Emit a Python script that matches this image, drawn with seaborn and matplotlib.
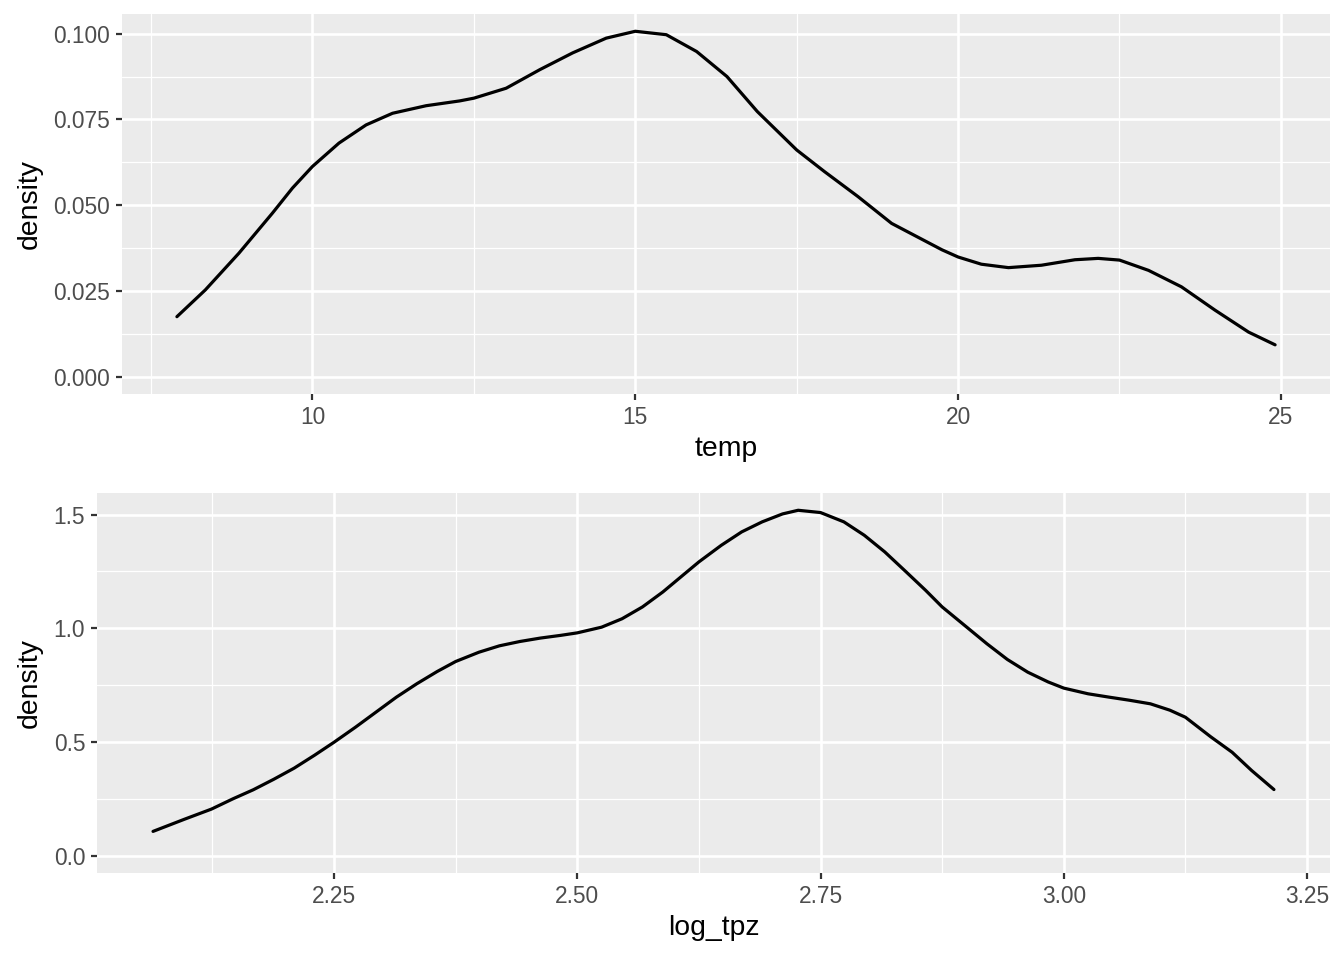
import matplotlib
matplotlib.use('Agg')
import matplotlib.pyplot as plt
from matplotlib.ticker import AutoMinorLocator, FixedLocator
import seaborn as sns
import pandas as pd

# density curves
temp = [7.90, 8.34, 8.86, 9.38, 9.69, 10.0, 10.41, 10.83, 11.24, 11.76, 12.28,
        12.50, 13.0, 13.52, 14.03, 14.55, 15.0, 15.48, 15.95, 16.42, 16.89, 17.5,
        17.93, 18.45, 18.97, 19.75, 20.0, 20.36, 20.78, 21.29, 21.81, 22.17, 22.5,
        22.95, 23.46, 23.98, 24.50, 24.91]
temp_density = [0.0175, 0.0253, 0.0360, 0.0477, 0.0550, 0.0613, 0.0681, 0.0734,
                0.0768, 0.0790, 0.0804, 0.0812, 0.0841, 0.0895, 0.0944, 0.0987,
                0.1007, 0.0997, 0.0948, 0.0875, 0.0773, 0.0661, 0.0598, 0.0525,
                0.0447, 0.0370, 0.0349, 0.0328, 0.0318, 0.0325, 0.0341, 0.0345,
                0.0340, 0.0310, 0.0262, 0.0194, 0.0130, 0.0093]

log_tpz = [2.064, 2.096, 2.124, 2.146, 2.167, 2.188, 2.209, 2.230, 2.25, 2.272,
           2.293, 2.314, 2.335, 2.356, 2.375, 2.399, 2.420, 2.441, 2.462, 2.483,
           2.50, 2.525, 2.546, 2.567, 2.588, 2.609, 2.625, 2.648, 2.669, 2.690,
           2.711, 2.727, 2.75, 2.774, 2.795, 2.816, 2.837, 2.858, 2.875, 2.900,
           2.921, 2.942, 2.963, 2.984, 3.00, 3.025, 3.047, 3.067, 3.089, 3.109,
           3.125, 3.151, 3.173, 3.193, 3.216]
log_tpz_density = [0.107, 0.160, 0.205, 0.250, 0.290, 0.336, 0.385, 0.442, 0.499,
                   0.565, 0.631, 0.697, 0.756, 0.810, 0.854, 0.895, 0.923, 0.942,
                   0.957, 0.969, 0.980, 1.005, 1.042, 1.094, 1.160, 1.235, 1.292,
                   1.365, 1.424, 1.468, 1.503, 1.519, 1.509, 1.468, 1.409, 1.336,
                   1.252, 1.167, 1.094, 1.006, 0.932, 0.863, 0.807, 0.764, 0.737,
                   0.712, 0.697, 0.684, 0.668, 0.640, 0.609, 0.523, 0.455, 0.375,
                   0.291]

temp_ticks = [10, 15, 20, 25]
temp_yticks = [0.000, 0.025, 0.050, 0.075, 0.100]
tpz_ticks = [2.25, 2.50, 2.75, 3.00, 3.25]
tpz_yticks = [0.0, 0.5, 1.0, 1.5]

sns.set_theme(style="darkgrid")
plt.rcParams['font.family'] = ['Liberation Sans', 'DejaVu Sans']

fig = plt.figure(figsize=(13.44, 9.6), dpi=100)
ax1 = fig.add_axes([122 / 1344, 1 - 394 / 960, 1208 / 1344, 380 / 960])
ax2 = fig.add_axes([97 / 1344, 1 - 873 / 960, 1233 / 1344, 380 / 960])


def style_axis(ax, x, y, xticks, yticks, xfmt, yfmt, xlabel, ylab_x):
    df = pd.DataFrame({'x': x, 'y': y})
    sns.lineplot(data=df, x='x', y='y', ax=ax, color='black', linewidth=2.3,
                 estimator=None, sort=False)
    xr = max(x) - min(x)
    ax.set_xlim(min(x) - 0.05 * xr, max(x) + 0.05 * xr)
    yr = max(y)
    ax.set_ylim(-0.05 * yr, yr * 1.05)
    ax.set_facecolor('#EBEBEB')
    for s in ax.spines.values():
        s.set_visible(False)
    ax.xaxis.set_major_locator(FixedLocator(xticks))
    ax.yaxis.set_major_locator(FixedLocator(yticks))
    ax.xaxis.set_minor_locator(AutoMinorLocator(2))
    ax.yaxis.set_minor_locator(AutoMinorLocator(2))
    ax.set_xticklabels([xfmt.format(v) for v in xticks])
    ax.set_yticklabels([yfmt.format(v) for v in yticks])
    ax.grid(which='major', color='white', linewidth=1.9)
    ax.grid(which='minor', color='white', linewidth=0.9)
    ax.set_axisbelow(True)
    ax.tick_params(which='major', length=4.5, width=1.6, color='#333333',
                   labelsize=16.4, labelcolor='#4D4D4D', pad=4,
                   bottom=True, left=True)
    ax.tick_params(which='minor', length=0)
    ax.set_xlabel(xlabel, fontsize=20.4, color='black', va='center')
    ax.set_ylabel('density', fontsize=20.4, color='black', va='center')
    ax.xaxis.set_label_coords(0.5, -0.146)
    ax.yaxis.set_label_coords(ylab_x, 0.5)


style_axis(ax1, temp, temp_density, temp_ticks, temp_yticks, '{:g}', '{:.3f}',
           'temp', (30 - 122) / 1208)
style_axis(ax2, log_tpz, log_tpz_density, tpz_ticks, tpz_yticks, '{:.2f}', '{:.1f}',
           'log_tpz', (30 - 97) / 1233)

fig.savefig('out.png', dpi=100, facecolor='white')
